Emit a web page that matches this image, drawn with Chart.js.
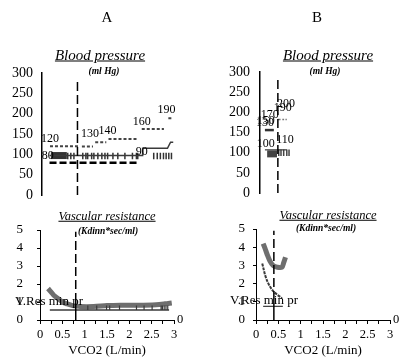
<!DOCTYPE html>
<html>
<head>
<meta charset="utf-8">
<script src="https://cdn.jsdelivr.net/npm/chart.js@4.4.1/dist/chart.umd.min.js"></script>
<style>
  html, body { margin: 0; padding: 0; background: #fff; }
  #wrap { position: relative; width: 410px; height: 358px; overflow: hidden;
          font-family: "Liberation Serif", "Times New Roman", serif; color: #000; }
  #wrap canvas { position: absolute; left: 0; top: 0; }
  .txt { position: absolute; white-space: nowrap; line-height: 1; transform: translate(-50%, -50%); }
  .head { font-size: 15px; }
  .ttl { font-size: 15px; font-style: italic; text-decoration: underline; }
  .ttl.small { font-size: 12.5px; }
  .unit { font-size: 9.5px; font-style: italic; font-weight: bold; }
  .leg { font-size: 13px; transform: translate(0, -50%); }
</style>
</head>
<body>
<div id="wrap">
  <canvas id="bpA" width="410" height="358"></canvas>
  <canvas id="resA" width="410" height="358"></canvas>
  <canvas id="bpB" width="410" height="358"></canvas>
  <canvas id="resB" width="410" height="358"></canvas>

  <div class="txt head" style="left:107px; top:17px;">A</div>
  <div class="txt head" style="left:317px; top:17px;">B</div>
  <div class="txt ttl" style="left:100px; top:55px;">Blood pressure</div>
  <div class="txt ttl" style="left:328px; top:55px;">Blood pressure</div>
  <div class="txt unit" style="left:104px; top:72px;">(ml Hg)</div>
  <div class="txt unit" style="left:325px; top:72px;">(ml Hg)</div>
  <div class="txt ttl small" style="left:107px; top:216px;">Vascular resistance</div>
  <div class="txt ttl small" style="left:328px; top:215px;">Vascular resistance</div>
  <div class="txt unit" style="left:108px; top:232px;">(Kdinn*sec/ml)</div>
  <div class="txt unit" style="left:326px; top:229px;">(Kdinn*sec/ml)</div>
  <div class="txt leg" style="left:15px; top:300px;">V.Res min pr</div>
  <div class="txt leg" style="left:230px; top:299px;">V.Res min pr</div>
</div>

<script>
const FONT = '"Liberation Serif", "Times New Roman", serif';
const W = 410, H = 358;

// --- shared axes ---
const vco2Min = 0, vco2Max = 3, vco2Step = 0.25;
const bpMin = 0, bpMax = 300, bpStep = 50;
const resMin = 0, resMax = 5, resStep = 1;
const thresholdA = 0.8;   // dashed line, panel A (L/min)
const thresholdB = 0.4;   // dashed line, panel B (L/min)

// --- panel A, blood pressure (segments are [from, to, mmHg]) ---
const sysSegA = [[0.18, 0.85, 120], [0.9, 1.15, 119], [1.2, 1.45, 130], [1.5, 2.15, 138], [2.25, 2.75, 162], [2.85, 2.95, 189]];
const diaSegA = [[0.17, 2.2, 79]];
const blockSegA = [[0.2, 0.56, 97]];
const meanXA = [0.17, 2.27, 2.27, 2.83, 2.9, 2.96];
const meanYA = [97, 97, 115, 115, 130, 130];
const barXA = [0.58, 0.65, 0.72, 0.92, 0.99, 1.03, 1.12, 1.17, 1.26, 1.35, 1.42, 1.48, 1.6, 1.71, 1.87, 2.04, 2.13, 2.16,
               2.52, 2.6, 2.67, 2.74, 2.8, 2.86, 2.92];
const barLowA = 88, barHighA = 104;
const bpLabelTextA = ['80', '120', '130', '140', '160', '90', '190'];
const bpLabelXA = [0.13, 0.18, 1.08, 1.48, 2.25, 2.25, 2.81];
const bpLabelYA = [96, 138, 150, 157, 180, 106, 209];

// --- panel A, vascular resistance ---
const resXA = [0.18, 0.25, 0.32, 0.4, 0.5, 0.6, 0.73, 0.9, 1.2, 1.5, 1.8, 2.2, 2.6, 2.8, 2.95];
const resYA = [1.75, 1.55, 1.35, 1.2, 1.0, 0.9, 0.8, 0.75, 0.75, 0.8, 0.82, 0.82, 0.85, 0.9, 0.95];
const minPrSegA = [[0.22, 2.89, 0.55]];
const minPrBarXA = [1.07, 1.27, 1.49, 1.56, 1.78, 2.16, 2.33, 2.51, 2.71, 2.74, 2.78, 2.82, 2.86];
const minPrBarHighA = 0.8;
const minPrMarkA = 1.0;   // solid part of the threshold line

// --- panel B, blood pressure ---
const sysSegB = [[0.11, 0.31, 156]];
const dotSegB = [[0.4, 0.46, 182], [0.5, 0.54, 182], [0.57, 0.6, 182]];
const blockSegB = [[0.16, 0.38, 97]];
const meanSegB = [[0.11, 0.6, 107]];
const barXB = [0.42, 0.47, 0.53, 0.6, 0.65];
const barLowB = 92, barHighB = 108;
const bpLabelTextB = ['100', '110', '130', '150', '170', '190', '200'];
const bpLabelXB = [0.13, 0.56, 0.11, 0.13, 0.22, 0.51, 0.58];
const bpLabelYB = [122, 131, 174, 178, 193, 210, 222];

// --- panel B, vascular resistance ---
const resXB = [0.16, 0.2, 0.25, 0.31, 0.38, 0.48, 0.58, 0.62, 0.66];
const resYB = [4.2, 3.95, 3.6, 3.25, 3.0, 2.9, 2.9, 3.15, 3.45];
const curveXB = [0.14, 0.17, 0.2, 0.25, 0.31, 0.38, 0.47, 0.58];
const curveYB = [3.1, 2.8, 2.5, 2.15, 1.85, 1.6, 1.4, 1.2];
const minPrSegB = [[0.16, 0.6, 0.75]];
const minPrMarkB = 1.1;

// helpers
const xy = (xs, ys) => xs.map((x, i) => ({ x: x, y: ys[i] }));

function segPoints(segs) {
  const pts = [];
  segs.forEach(([x0, x1, y], i) => {
    if (i > 0) pts.push({ x: x0, y: null });
    pts.push({ x: x0, y: y }, { x: x1, y: y });
  });
  return pts;
}

function barPoints(xs, lo, hi) {
  const pts = [];
  xs.forEach((x) => {
    pts.push({ x: x, y: lo }, { x: x, y: hi }, { x: x, y: null });
  });
  return pts;
}

function vline(x, lo, hi) {
  return [{ x: x, y: lo }, { x: x, y: hi }];
}

function line(data, color, width, dash, tension) {
  return {
    data: data,
    borderColor: color,
    borderWidth: width,
    borderDash: dash || [],
    pointRadius: 0,
    fill: false,
    spanGaps: false,
    tension: tension || 0,
  };
}

function labelPlugin(texts, xs, ys, size) {
  return {
    id: 'valueLabels',
    afterDatasetsDraw(chart) {
      const { ctx, scales } = chart;
      ctx.save();
      ctx.font = size + 'px ' + FONT;
      ctx.fillStyle = '#000';
      ctx.textAlign = 'center';
      ctx.textBaseline = 'middle';
      texts.forEach((t, i) => {
        ctx.fillText(t, scales.x.getPixelForValue(xs[i]), scales.y.getPixelForValue(ys[i]));
      });
      ctx.restore();
    },
  };
}

// area = where the plot itself sits on the 410x358 canvas
function makeChart(id, area, yAxis, withX, datasets, plugins) {
  const yW = area.yW, xH = withX ? area.xH : 0, y2W = withX ? area.y2W : 0;
  const scales = {
    x: {
      type: 'linear', min: vco2Min, max: vco2Max,
      display: withX,
      ticks: {
        stepSize: vco2Step, autoSkip: false, maxRotation: 0, padding: 3,
        color: '#000', font: { family: FONT, size: 12.5 },
        callback: (v) => (Math.abs(v * 2 - Math.round(v * 2)) < 1e-6 ? String(v) : ''),
      },
      grid: { drawOnChartArea: false, tickLength: 4, color: '#000' },
      border: { color: '#000', width: 1 },
      title: { display: true, text: 'VCO2 (L/min)', color: '#000', font: { family: FONT, size: 13 }, padding: 0 },
      afterFit: (s) => { s.height = xH; },
    },
    y: Object.assign({
      afterFit: (s) => { s.width = yW; },
    }, yAxis),
  };
  if (withX) {
    scales.y2 = {
      position: 'right', min: resMin, max: resMax,
      ticks: { stepSize: resStep, autoSkip: false, padding: 3, color: '#000', font: { family: FONT, size: 12.5 },
               callback: (v) => (v === 0 ? '0' : '') },
      grid: { display: false, drawTicks: false },
      border: { display: false },
      afterFit: (s) => { s.width = y2W; },
    };
  }
  return new Chart(document.getElementById(id), {
    type: 'line',
    data: { datasets: datasets },
    options: {
      responsive: false,
      animation: false,
      devicePixelRatio: 1,
      layout: {
        padding: {
          left: area.left - yW,
          top: area.top,
          right: W - area.right - y2W,
          bottom: H - area.bottom - xH,
        },
      },
      plugins: { legend: { display: false }, tooltip: { enabled: false } },
      scales: scales,
    },
    plugins: plugins || [],
  });
}

function bpAxis(pad) {
  return {
    min: bpMin, max: bpMax,
    ticks: { stepSize: bpStep, autoSkip: false, padding: pad, color: '#000', font: { family: FONT, size: 14 } },
    grid: { display: false, drawTicks: false },
    border: { color: '#000', width: 1.5 },
  };
}

function resAxis(pad) {
  return {
    min: resMin, max: resMax,
    ticks: { stepSize: resStep, autoSkip: false, padding: pad, color: '#000', font: { family: FONT, size: 13 } },
    grid: { drawOnChartArea: false, tickLength: 3, color: '#000' },
    border: { color: '#000', width: 1 },
  };
}

const BAND = '#6e6e6e', DARK = '#3a3a3a';

// Panel A - blood pressure
makeChart('bpA', { left: 42, top: 73, right: 175, bottom: 195, yW: 42 }, bpAxis(9), false, [
  line(vline(thresholdA, 0, 288), '#000', 1.5, [9, 4]),
  line(segPoints(sysSegA), '#444', 2, [3, 2]),
  line(xy(meanXA, meanYA), DARK, 1.5),
  line(segPoints(blockSegA), '#333', 7),
  line(barPoints(barXA, barLowA, barHighA), '#333', 1.5),
  line(segPoints(diaSegA), '#000', 2.5, [7, 3]),
], [labelPlugin(bpLabelTextA, bpLabelXA, bpLabelYA, 12)]);

// Panel A - vascular resistance
makeChart('resA', { left: 40, top: 230, right: 174, bottom: 320, yW: 40, xH: 38, y2W: 14 }, resAxis(14), true, [
  line(vline(thresholdA, minPrMarkA, 4.9), '#000', 1.5, [9, 4]),
  line(vline(thresholdA, 0, minPrMarkA), '#000', 1.5),
  line(segPoints(minPrSegA), DARK, 1.5),
  line(barPoints(minPrBarXA, minPrSegA[0][2], minPrBarHighA), DARK, 1.2),
  line(xy(resXA, resYA), BAND, 5, [], 0.3),
]);

// Panel B - blood pressure
makeChart('bpB', { left: 260, top: 72, right: 394, bottom: 193, yW: 45 }, bpAxis(10), false, [
  line(vline(thresholdB, 0, 280), '#000', 1.5, [9, 4]),
  line(segPoints(sysSegB), '#333', 2.5),
  line(segPoints(dotSegB), '#777', 1.5),
  line(segPoints(meanSegB), DARK, 1.2),
  line(segPoints(blockSegB), '#444', 7),
  line(barPoints(barXB, barLowB, barHighB), '#444', 1.5),
], [labelPlugin(bpLabelTextB, bpLabelXB, bpLabelYB, 12)]);

// Panel B - vascular resistance
makeChart('resB', { left: 256, top: 229, right: 390, bottom: 320, yW: 45, xH: 38, y2W: 14 }, resAxis(8), true, [
  line(vline(thresholdB, minPrMarkB, 4.9), '#000', 1.5, [9, 4]),
  line(vline(thresholdB, 0, minPrMarkB), '#000', 1.5),
  line(segPoints(minPrSegB), DARK, 1.2),
  line(xy(curveXB, curveYB), DARK, 2, [3, 1], 0.3),
  line(xy(resXB, resYB), BAND, 5, [], 0.3),
]);
</script>
</body>
</html>
